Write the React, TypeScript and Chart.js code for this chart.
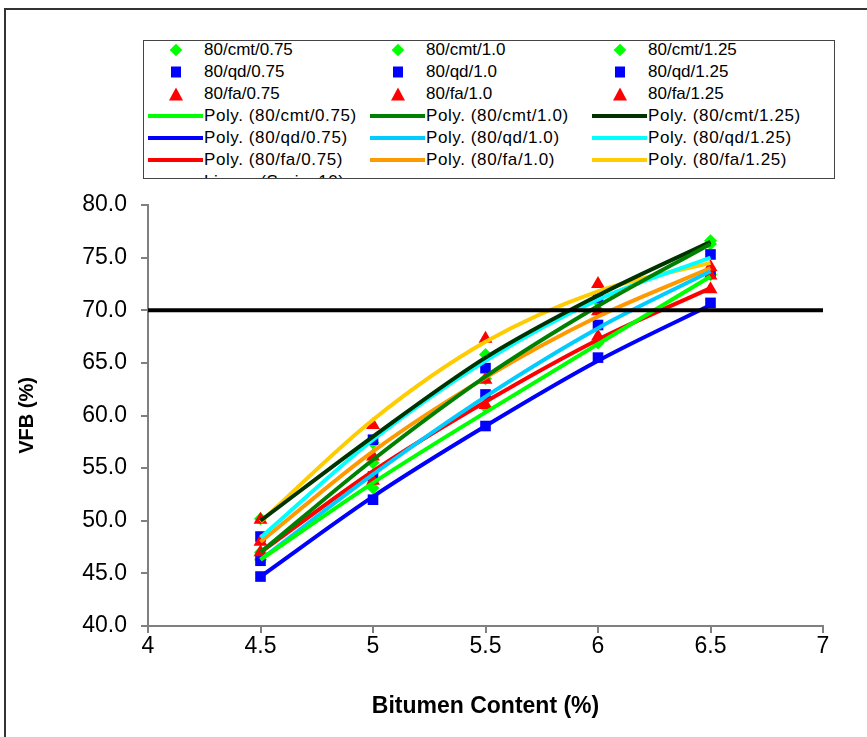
import React, { useEffect, useRef } from 'react';
import { Chart, registerables } from 'chart.js';

Chart.register(...registerables);

// ---------- data ----------
const bitumen = [4.5, 5, 5.5, 6, 6.5];

const cmt075 = [46.3, 53.1, 60.8, 66.9, 73.4];
const cmt100 = [47.0, 55.5, 63.5, 70.0, 76.3];
const cmt125 = [50.2, 57.4, 65.8, 70.8, 76.6];
const qd075 = [44.7, 52.0, 59.0, 65.5, 70.7];
const qd100 = [46.2, 54.2, 62.0, 68.6, 73.5];
const qd125 = [48.5, 57.7, 64.5, 71.2, 75.3];
const fa075 = [47.0, 53.8, 61.0, 67.5, 72.0];
const fa100 = [48.0, 56.1, 63.4, 69.9, 73.3];
const fa125 = [50.1, 59.1, 67.3, 72.5, 74.1];

const polyCmt075 = [46.3, 53.6, 60.3, 66.8, 73.2];
const polyCmt100 = [47.0, 55.8, 63.7, 70.4, 76.3];
const polyCmt125 = [50.0, 58.0, 65.5, 71.4, 76.5];
const polyQd075 = [44.7, 52.3, 59.0, 65.2, 70.5];
const polyQd100 = [46.3, 54.4, 61.8, 68.3, 73.7];
const polyQd125 = [48.4, 57.7, 65.2, 71.0, 75.0];
const polyFa075 = [47.0, 54.7, 61.3, 67.2, 72.1];
const polyFa100 = [48.0, 56.6, 63.6, 69.4, 74.0];
const polyFa125 = [49.9, 59.6, 67.0, 71.8, 74.5];

const limitX = [4, 7];
const limitY = [70, 70];

const markerNames = [
  '80/cmt/0.75', '80/cmt/1.0', '80/cmt/1.25',
  '80/qd/0.75', '80/qd/1.0', '80/qd/1.25',
  '80/fa/0.75', '80/fa/1.0', '80/fa/1.25',
];
const markerSeries = [cmt075, cmt100, cmt125, qd075, qd100, qd125, fa075, fa100, fa125];
const markerKinds = ['diamond', 'diamond', 'diamond', 'square', 'square', 'square', 'triangle', 'triangle', 'triangle'];

const polyNames = [
  'Poly. (80/cmt/0.75)', 'Poly. (80/cmt/1.0)', 'Poly. (80/cmt/1.25)',
  'Poly. (80/qd/0.75)', 'Poly. (80/qd/1.0)', 'Poly. (80/qd/1.25)',
  'Poly. (80/fa/0.75)', 'Poly. (80/fa/1.0)', 'Poly. (80/fa/1.25)',
];
const polySeries = [polyCmt075, polyCmt100, polyCmt125, polyQd075, polyQd100, polyQd125, polyFa075, polyFa100, polyFa125];
const polyColors = ['#00FF00', '#008000', '#003300', '#0000FF', '#00CCFF', '#00FFFF', '#FF0000', '#FF9900', '#FFCC00'];

const limitName = 'Linear (Series10)';

const kindColor: Record<string, string> = { diamond: '#00FF00', square: '#0000FF', triangle: '#FF0000' };
const kindStyle: Record<string, string> = { diamond: 'rectRot', square: 'rect', triangle: 'triangle' };
const kindRadius: Record<string, number> = { diamond: 6.5, square: 7.5, triangle: 8 };

const FONT = "'Liberation Sans', Arial, sans-serif";

function LegendMarker({ kind }: { kind: string }) {
  if (kind === 'diamond') {
    return <div style={{ width: 9, height: 9, background: '#00FF00', transform: 'rotate(45deg)' }} />;
  }
  if (kind === 'square') {
    return <div style={{ width: 10, height: 11, background: '#0000FF' }} />;
  }
  return (
    <div
      style={{
        width: 0,
        height: 0,
        borderLeft: '7px solid transparent',
        borderRight: '7px solid transparent',
        borderBottom: '13px solid #FF0000',
      }}
    />
  );
}

function Legend() {
  const rows: any[] = [];
  const colLeft = (i: number) => 3 + (i % 3) * 222;
  const textStyle: any = { position: 'absolute', left: 57, top: 0, lineHeight: '22px', fontSize: 17, whiteSpace: 'nowrap' };
  markerNames.forEach((name, i) => {
    const row = Math.floor(i / 3);
    rows.push(
      <div key={'m' + i} style={{ position: 'absolute', left: colLeft(i), top: row * 22 - 2, height: 22, width: 222 }}>
        <div style={{ position: 'absolute', left: 29, top: 11, transform: 'translate(-50%,-50%)' }}>
          <LegendMarker kind={markerKinds[i]} />
        </div>
        <div style={textStyle}>{name}</div>
      </div>
    );
  });
  polyNames.forEach((name, i) => {
    const row = 3 + Math.floor(i / 3);
    rows.push(
      <div key={'p' + i} style={{ position: 'absolute', left: colLeft(i), top: row * 22 - 2, height: 22, width: 222 }}>
        <div style={{ position: 'absolute', left: 1, top: 9, width: 55, height: 4, background: polyColors[i] }} />
        <div style={{ ...textStyle, letterSpacing: 0.6 }}>{name}</div>
      </div>
    );
  });
  rows.push(
    <div key="lin" style={{ position: 'absolute', left: colLeft(0), top: 6 * 22 - 2, height: 22, width: 222 }}>
      <div style={{ position: 'absolute', left: 1, top: 10, width: 55, height: 2, background: '#000' }} />
      <div style={{ ...textStyle, letterSpacing: 0.6 }}>{limitName}</div>
    </div>
  );
  return (
    <div
      style={{
        position: 'absolute',
        left: 143,
        top: 40,
        width: 690,
        height: 137,
        border: '1px solid #444',
        background: '#fff',
        overflow: 'hidden',
        fontFamily: FONT,
        color: '#000',
      }}
    >
      {rows}
    </div>
  );
}

export default function App() {
  const ref = useRef<HTMLCanvasElement | null>(null);

  useEffect(() => {
    if (!ref.current) return;
    const datasets: any[] = [];
    datasets.push({
      type: 'line',
      label: limitName,
      data: limitX.map((x, i) => ({ x, y: limitY[i] })),
      borderColor: '#000',
      borderWidth: 4,
      pointRadius: 0,
      order: 0,
    });
    polySeries.forEach((s, i) => {
      datasets.push({
        type: 'line',
        label: polyNames[i],
        data: bitumen.map((x, j) => ({ x, y: s[j] })),
        borderColor: polyColors[i],
        borderWidth: 4,
        pointRadius: 0,
        cubicInterpolationMode: 'monotone',
        order: 1,
      });
    });
    markerSeries.forEach((s, i) => {
      const k = markerKinds[i];
      datasets.push({
        type: 'scatter',
        label: markerNames[i],
        data: bitumen.map((x, j) => ({ x, y: s[j] })),
        backgroundColor: kindColor[k],
        borderColor: kindColor[k],
        borderWidth: 0,
        pointStyle: kindStyle[k],
        pointRadius: kindRadius[k],
        showLine: false,
        order: 2 + (8 - i) * 0.01,
      });
    });

    const chart = new Chart(ref.current, {
      type: 'scatter',
      data: { datasets },
      options: {
        animation: false,
        responsive: false,
        layout: { padding: { top: 205, right: 44, bottom: 0, left: 0 } },
        plugins: { legend: { display: false }, tooltip: { enabled: false } },
        scales: {
          x: {
            type: 'linear',
            min: 4,
            max: 7,
            afterFit: (s: any) => { s.height = 111; },
            ticks: {
              stepSize: 0.5,
              color: '#000',
              font: { family: FONT, size: 23 },
              padding: 0,
              maxRotation: 0,
              callback: (v: any) => String(v),
            },
            grid: { display: true, drawOnChartArea: false, drawTicks: true, tickLength: 7, color: '#808080', lineWidth: 2 },
            border: { display: true, color: '#808080', width: 2 },
            title: {
              display: true,
              text: 'Bitumen Content (%)',
              color: '#000',
              font: { family: FONT, size: 23, weight: 'bold' },
              padding: { top: 0, bottom: 17 },
            },
          },
          y: {
            type: 'linear',
            min: 40,
            max: 80,
            afterFit: (s: any) => { s.width = 148; },
            ticks: {
              stepSize: 5,
              color: '#000',
              font: { family: FONT, size: 23 },
              padding: 14,
              callback: (v: any) => Number(v).toFixed(1),
            },
            grid: { display: true, drawOnChartArea: false, drawTicks: true, tickLength: 7, color: '#808080', lineWidth: 2 },
            border: { display: true, color: '#808080', width: 2 },
            title: {
              display: true,
              text: 'VFB (%)',
              color: '#000',
              font: { family: FONT, size: 20, weight: 'bold' },
              padding: { top: 15, bottom: 0 },
            },
          },
        },
      } as any,
    });
    return () => chart.destroy();
  }, []);

  return (
    <div style={{ position: 'fixed', left: 0, top: 0, width: 867, height: 737, overflow: 'hidden', background: '#fff' }}>
      <div
        style={{
          position: 'absolute',
          left: 4,
          top: 8,
          width: 900,
          height: 760,
          borderLeft: '2px solid #333',
          borderTop: '2px solid #333',
        }}
      />
      <canvas ref={ref} width={867} height={737} style={{ position: 'absolute', left: 0, top: 0, width: 867, height: 737 }} />
      <Legend />
    </div>
  );
}
